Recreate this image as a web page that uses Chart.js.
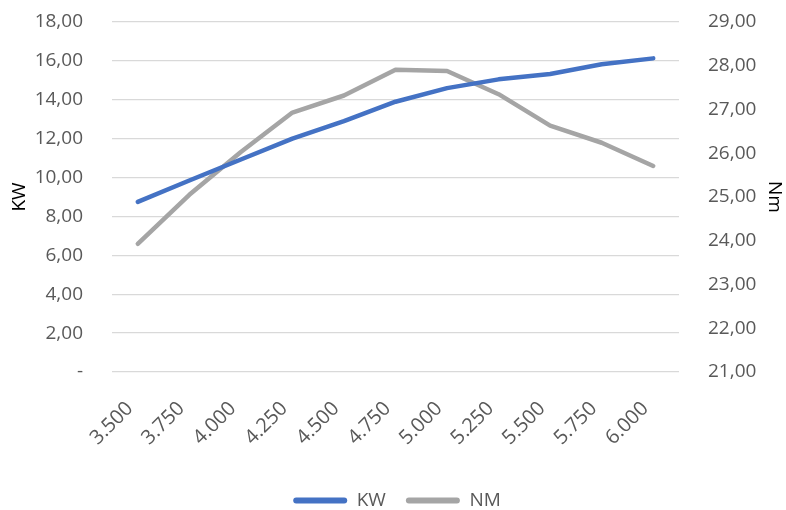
<!DOCTYPE html>
<html>
<head>
<meta charset="utf-8">
<script src="https://cdn.jsdelivr.net/npm/chart.js@4.4.0/dist/chart.umd.min.js"></script>
<style>
  html, body { margin: 0; padding: 0; background: #ffffff; }
  #wrap { width: 786px; height: 510px; }
</style>
</head>
<body>
<div id="wrap"><canvas id="powerChart"></canvas></div>
<script>
// rpm categories and the two series
const rpmLabels = ["3.500", "3.750", "4.000", "4.250", "4.500", "4.750", "5.000", "5.250", "5.500", "5.750", "6.000"];
const kwValues = [8.75, 9.85, 10.93, 12.0, 12.9, 13.9, 14.6, 15.05, 15.33, 15.83, 16.13];
const nmValues = [23.93, 25.05, 26.03, 26.93, 27.32, 27.91, 27.88, 27.35, 26.63, 26.24, 25.71];

const tickColor = "#595959";
const gridColor = "#d9d9d9";
const fontFamily = "'Open Sans', 'Liberation Sans', sans-serif";

// Excel style number format: comma decimal, dash for zero
function fmt(v) {
  if (Math.abs(v) < 1e-9) return "-";
  return v.toFixed(2).replace(".", ",");
}

// plot area is pinned to the reference, so drop the auto tick padding
function pinY(width) {
  return (scale) => {
    scale.width = width;
    scale.paddingTop = 0;
    scale.paddingBottom = 0;
  };
}

const ctx = document.getElementById("powerChart").getContext("2d");
new Chart(ctx, {
  type: "line",
  data: {
    labels: rpmLabels,
    datasets: [
      {
        label: "KW",
        data: kwValues,
        yAxisID: "yKW",
        borderColor: "#4472c4",
        backgroundColor: "#4472c4",
        borderWidth: 4.5,
        borderCapStyle: "round",
        borderJoinStyle: "round",
        pointRadius: 0,
        tension: 0,
      },
      {
        label: "NM",
        data: nmValues,
        yAxisID: "yNM",
        borderColor: "#a5a5a5",
        backgroundColor: "#a5a5a5",
        borderWidth: 4.5,
        borderCapStyle: "round",
        borderJoinStyle: "round",
        pointRadius: 0,
        tension: 0,
      },
    ],
  },
  options: {
    responsive: true,
    maintainAspectRatio: false,
    animation: false,
    layout: {
      padding: { top: 22, left: 8, right: 0, bottom: -10 },
    },
    plugins: {
      tooltip: { enabled: false },
      legend: {
        position: "bottom",
        labels: {
          color: tickColor,
          font: { family: fontFamily, size: 19 },
          boxWidth: 54,
          boxHeight: 6,
          padding: 20,
          generateLabels: (chart) =>
            chart.data.datasets.map((ds, i) => ({
              text: ds.label,
              fillStyle: ds.borderColor,
              strokeStyle: ds.borderColor,
              lineWidth: 0,
              borderRadius: 3,
              fontColor: tickColor,
              datasetIndex: i,
            })),
        },
      },
    },
    scales: {
      x: {
        offset: true,
        grid: { display: false, drawTicks: false },
        border: { display: false },
        ticks: {
          color: tickColor,
          font: { family: fontFamily, size: 20 },
          minRotation: 45,
          maxRotation: 45,
          padding: 25,
          labelOffset: -8,
        },
        afterFit: (scale) => { scale.height = 99; },
      },
      yKW: {
        position: "left",
        min: 0,
        max: 18,
        grid: { color: gridColor, lineWidth: 1.3, drawTicks: false },
        border: { display: false },
        ticks: {
          stepSize: 2,
          color: tickColor,
          font: { family: fontFamily, size: 19 },
          padding: 29,
          callback: (v) => fmt(v),
        },
        title: {
          display: true,
          text: "KW",
          color: "#000000",
          font: { family: fontFamily, size: 19 },
          padding: { top: 0, bottom: 0 },
        },
        afterFit: pinY(104),
      },
      yNM: {
        position: "right",
        min: 21,
        max: 29,
        grid: { display: false, drawTicks: false },
        border: { display: false },
        ticks: {
          stepSize: 1,
          color: tickColor,
          font: { family: fontFamily, size: 19 },
          padding: 29,
          callback: (v) => fmt(v),
        },
        title: {
          display: true,
          text: "Nm",
          color: "#000000",
          font: { family: fontFamily, size: 19 },
          padding: 0,
        },
        afterFit: pinY(107),
      },
    },
  },
});
</script>
</body>
</html>
